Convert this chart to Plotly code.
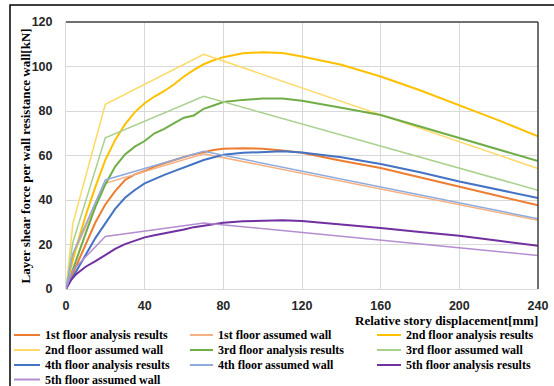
import plotly.graph_objects as go

# ---------------- data ----------------
x_ana = [0, 2, 5, 10, 15, 20, 25, 30, 35, 40, 45, 50, 55, 60, 65, 70, 75, 80, 90,
         100, 110, 120, 140, 160, 180, 200, 220, 240]
y_ana_1 = [0, 4, 10, 20, 30, 38, 44, 49, 51.5, 53, 55, 56.5, 58, 59.3, 60.5, 61.5, 62.5, 63, 63.3,
           63, 62.3, 61.2, 57.6, 54.4, 50.1, 45.9, 41.8, 37.6]
y_ana_2 = [0, 8, 18, 33, 46, 58, 67, 74, 79.5, 83.5, 86.5, 89, 92, 95.5, 98.5, 101, 102.8, 104.2, 106,
           106.4, 106.1, 104.5, 100.8, 95.5, 89.3, 82.6, 75.8, 68.6]
y_ana_3 = [0, 5, 13, 25, 37, 47, 55, 60.5, 64, 66.5, 70, 72, 74.5, 77, 78, 81, 82.5, 84, 85,
           85.6, 85.6, 84.6, 81.5, 78.2, 73, 67.8, 62.6, 57.5]
y_ana_4 = [0, 3, 8, 15.5, 23, 29.5, 36, 41, 44.5, 47.5, 49.5, 51.3, 53, 54.5, 56.3, 58, 59.3, 60.3, 61.2,
           61.7, 61.9, 61.3, 59.2, 56.2, 52.5, 48.3, 44.6, 40.9]
y_ana_5 = [0, 3.5, 6.5, 10, 12.5, 15.3, 18, 20.2, 21.8, 23.2, 24.2, 25, 25.8, 26.7, 27.8, 28.4, 29.2, 29.8, 30.4,
           30.8, 30.9, 30.6, 29.1, 27.4, 25.6, 23.9, 21.7, 19.4]

x_wall = [0, 3.5, 20, 70, 240]
y_wall_1 = [0, 15, 47.5, 60.8, 30.9]
y_wall_2 = [0, 29.5, 83, 105.5, 54.1]
y_wall_3 = [0, 21, 68, 86.6, 44.4]
y_wall_4 = [0, 16, 49, 61.9, 31.6]
y_wall_5 = [0, 8.5, 23.6, 29.7, 15.1]

names = ["1st floor analysis results", "1st floor assumed wall",
         "2nd floor analysis results", "2nd floor assumed wall",
         "3rd floor analysis results", "3rd floor assumed wall",
         "4th floor analysis results", "4th floor assumed wall",
         "5th floor analysis results", "5th floor assumed wall"]
colors = ["#ED7D31", "#F4B183", "#FFC000", "#FFD966", "#70AD47", "#A9D18E",
          "#4472C4", "#8FAADC", "#7030A0", "#B48ED0"]
x_ticks = [0, 40, 80, 120, 160, 200, 240]
y_ticks = [0, 20, 40, 60, 80, 100, 120]
x_title = "Relative story displacement[mm]"
y_title = "Layer shear force per wall resistance wall[kN]"

series = [(x_ana, y_ana_1), (x_wall, y_wall_1), (x_ana, y_ana_2), (x_wall, y_wall_2),
          (x_ana, y_ana_3), (x_wall, y_wall_3), (x_ana, y_ana_4), (x_wall, y_wall_4),
          (x_ana, y_ana_5), (x_wall, y_wall_5)]

# ---------------- layout constants ----------------
W, H = 554, 386
L, R, T, B = 66, 16, 22, 97
PW, PH = W - L - R, H - T - B
SERIF = "Liberation Serif"
SANS = "Liberation Sans"


def px(xp):
    return (xp - L) / PW


def py(yp):
    return (H - B - yp) / PH


fig = go.Figure()
for i, ((xs, ys), nm, c) in enumerate(zip(series, names, colors)):
    fig.add_trace(go.Scatter(x=xs, y=ys, mode="lines", name=nm, showlegend=False,
                             line=dict(color=c, width=2 if i % 2 == 0 else 1.5)))

shapes = []
annotations = []
# outer chart frame
shapes.append(dict(type="rect", xref="paper", yref="paper", x0=px(10), x1=px(560),
                   y0=py(395), y1=py(5), line=dict(color="#000000", width=1.5), layer="below"))
# top and right plot border
shapes.append(dict(type="line", xref="paper", yref="paper", x0=0, x1=1, y0=1, y1=1,
                   line=dict(color="#404040", width=1.5)))
shapes.append(dict(type="line", xref="paper", yref="paper", x0=1, x1=1, y0=0, y1=1,
                   line=dict(color="#404040", width=1.5)))

# manual legend (3 columns, tight rows)
col_line = [(14, 40), (190, 213), (377, 401)]
col_text = [43, 216, 404]
rows = [335, 350, 365, 379.5]
for i, (nm, c) in enumerate(zip(names, colors)):
    r, cidx = divmod(i, 3)
    yy = py(rows[r])
    shapes.append(dict(type="line", xref="paper", yref="paper",
                       x0=px(col_line[cidx][0]), x1=px(col_line[cidx][1]), y0=yy, y1=yy,
                       line=dict(color=c, width=2)))
    annotations.append(dict(xref="paper", yref="paper", x=px(col_text[cidx]), y=yy,
                            text=nm, showarrow=False, xanchor="left", yanchor="middle",
                            font=dict(family=SERIF, size=12, color="#000000", weight="bold")))

# axis titles
annotations.append(dict(xref="paper", yref="paper", x=px(540), y=py(320.5), text=x_title,
                        showarrow=False, xanchor="right", yanchor="middle",
                        font=dict(family=SERIF, size=13, color="#000000", weight="bold")))
annotations.append(dict(xref="paper", yref="paper", x=px(24.5), y=py(156), text=y_title,
                        showarrow=False, xanchor="center", yanchor="middle", textangle=-90,
                        font=dict(family=SERIF, size=13, color="#000000", weight="bold")))

fig.update_layout(
    width=W, height=H,
    margin=dict(l=L, r=R, t=T, b=B, autoexpand=False),
    paper_bgcolor="#FFFFFF", plot_bgcolor="#FFFFFF",
    showlegend=False,
    shapes=shapes, annotations=annotations,
    xaxis=dict(range=[0, 240], tickvals=x_ticks, ticktext=[str(v) for v in x_ticks],
               showgrid=True, gridcolor="#D9D9D9", gridwidth=1, zeroline=False,
               showline=True, linecolor="#D9D9D9", linewidth=1, ticks="",
               ticklabelstandoff=5,
               tickfont=dict(family=SANS, size=12.5, color="#262626", weight="bold")),
    yaxis=dict(range=[0, 120], tickvals=y_ticks, ticktext=[str(v) for v in y_ticks],
               showgrid=True, gridcolor="#D9D9D9", gridwidth=1, zeroline=False,
               showline=True, linecolor="#D9D9D9", linewidth=1, ticks="",
               ticklabelstandoff=10,
               tickfont=dict(family=SANS, size=12.5, color="#262626", weight="bold")),
)

fig.write_html("out.html")
